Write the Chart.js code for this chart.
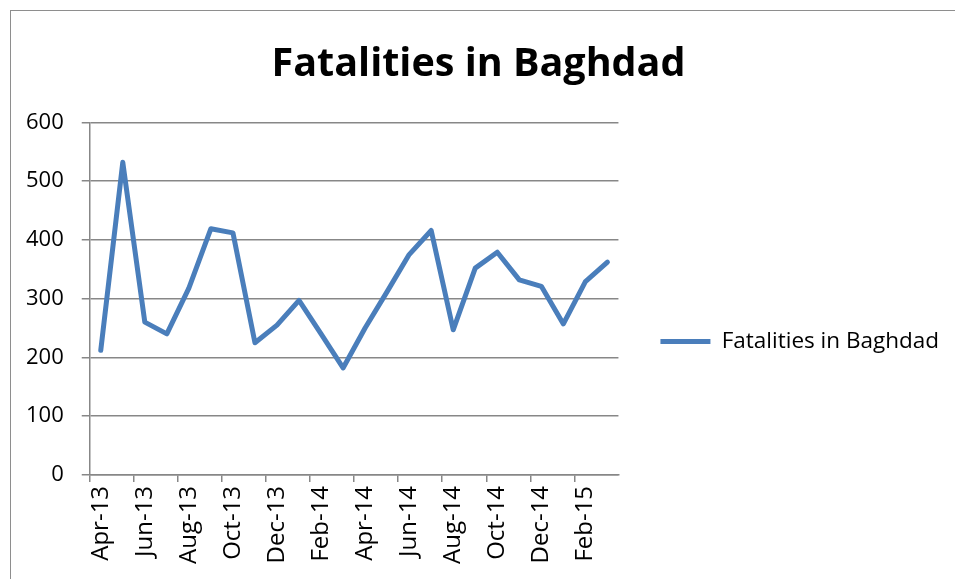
<!DOCTYPE html>
<html>
<head>
<meta charset="utf-8">
<script src="https://cdn.jsdelivr.net/npm/chart.js@4"></script>
<style>
  html, body { margin: 0; padding: 0; background: #fff; overflow: hidden; }
  #frame { position: absolute; left: 10px; top: 10px; width: 960px; height: 600px;
           border-left: 1.5px solid #8e8e8e; border-top: 1.5px solid #8e8e8e; }
  #wrap { position: absolute; left: 0; top: 0; width: 955px; height: 579px; }
</style>
</head>
<body>
<div id="frame"></div>
<div id="wrap"><canvas id="chart"></canvas></div>
<script>
const months = ["Apr-13", "May-13", "Jun-13", "Jul-13", "Aug-13", "Sep-13", "Oct-13", "Nov-13",
  "Dec-13", "Jan-14", "Feb-14", "Mar-14", "Apr-14", "May-14", "Jun-14", "Jul-14",
  "Aug-14", "Sep-14", "Oct-14", "Nov-14", "Dec-14", "Jan-15", "Feb-15", "Mar-15"];
const fatalities = [212, 532, 260, 240, 318, 419, 412, 225, 255, 297, 240, 182,
  250, 312, 375, 416, 247, 352, 379, 332, 321, 257, 329, 362];
const yTicks = [0, 100, 200, 300, 400, 500, 600];

const gray = "#878787";
const blue = "#4a7ebb";
const font = "'Open Sans', sans-serif";

new Chart(document.getElementById("chart"), {
  type: "line",
  data: {
    labels: months,
    datasets: [{
      label: "Fatalities in Baghdad",
      data: fatalities,
      borderColor: blue,
      backgroundColor: blue,
      borderWidth: 5,
      borderCapStyle: "round",
      borderJoinStyle: "round",
      pointRadius: 0,
      tension: 0
    }]
  },
  options: {
    responsive: true,
    maintainAspectRatio: false,
    animation: false,
    layout: { padding: { left: 8, right: 6, top: 20, bottom: 11 } },
    plugins: {
      title: {
        display: true,
        text: "Fatalities in Baghdad",
        color: "#000",
        font: { family: font, size: 39.5, weight: "bold" },
        padding: { top: 21, bottom: 34 }
      },
      legend: {
        position: "right",
        maxWidth: 345,
        title: { display: true, text: "", font: { size: 10 }, padding: { top: 0, bottom: 83 } },
        labels: {
          usePointStyle: true,
          pointStyle: "line",
          pointStyleWidth: 50,
          padding: 42,
          color: "#000",
          font: { family: font, size: 22.5 }
        }
      },
      tooltip: { enabled: false }
    },
    scales: {
      x: {
        offset: true,
        grid: {
          offset: true,
          drawOnChartArea: false,
          drawTicks: true,
          tickLength: 7,
          lineWidth: 1.5,
          color: ctx => ctx.index % 2 === 0 ? gray : "rgba(0,0,0,0)"
        },
        border: { color: gray, width: 1.5 },
        ticks: {
          autoSkip: false,
          minRotation: 90,
          maxRotation: 90,
          padding: 4,
          color: "#000",
          font: { family: font, size: 24 },
          callback: (v, i) => i % 2 === 0 ? months[i] : ""
        }
      },
      y: {
        min: 0,
        max: 600,
        afterBuildTicks: axis => { axis.ticks = yTicks.map(v => ({ value: v })); },
        grid: { color: gray, lineWidth: 1.5, tickLength: 8 },
        border: { color: gray, width: 1.5 },
        ticks: {
          padding: 18,
          color: "#000",
          font: { family: font, size: 22 }
        }
      }
    }
  }
});
</script>
</body>
</html>
